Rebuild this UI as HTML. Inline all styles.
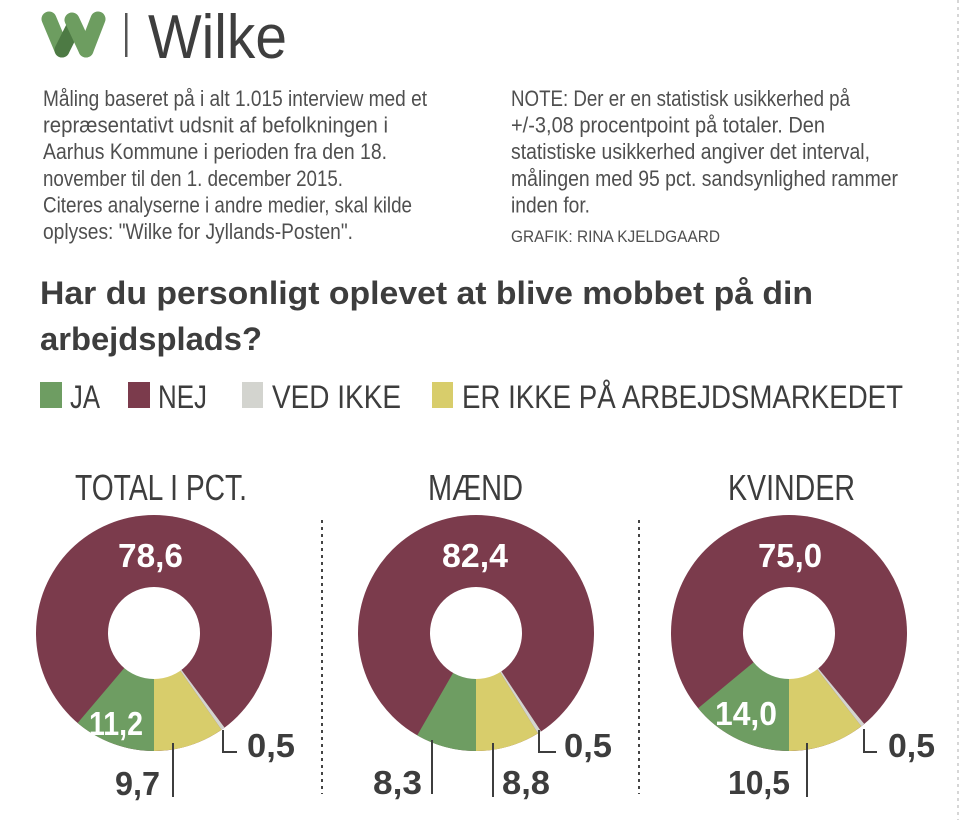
<!DOCTYPE html>
<html><head><meta charset="utf-8"><style>
html,body{margin:0;padding:0;background:#fff;}
svg{display:block;}
text{font-family:"Liberation Sans",sans-serif;}
</style></head><body>
<svg width="960" height="820" viewBox="0 0 960 820" xmlns="http://www.w3.org/2000/svg">
<rect width="960" height="820" fill="#ffffff"/>
<!-- right dotted edge -->
<line x1="958" y1="0" x2="958" y2="820" stroke="#c8c8c8" stroke-width="1.5" stroke-dasharray="3,4"/>

<!-- logo -->
<g stroke-linecap="round" stroke-linejoin="round" fill="none" stroke-width="15">
  <line x1="49" y1="19" x2="62" y2="50" stroke="#6d9d60"/>
  <line x1="62" y1="50" x2="74" y2="26" stroke="#4d7a44"/>
  <line x1="72" y1="20" x2="86" y2="50" stroke="#6d9d60"/>
  <line x1="86" y1="50" x2="98" y2="19" stroke="#6d9d60"/>
</g>
<rect x="125" y="13" width="2.5" height="44" fill="#555"/>
<text x="148" y="58" font-size="62" fill="#3e3e3e" textLength="139" lengthAdjust="spacingAndGlyphs">Wilke</text>

<!-- intro text -->
<g font-size="22" fill="#4f4f4f">
<text x="43" y="106" textLength="384" lengthAdjust="spacingAndGlyphs">Måling baseret på i alt 1.015 interview med et</text>
<text x="43" y="132.6" textLength="345" lengthAdjust="spacingAndGlyphs">repræsentativt udsnit af befolkningen i</text>
<text x="43" y="159.2" textLength="344" lengthAdjust="spacingAndGlyphs">Aarhus Kommune i perioden fra den 18.</text>
<text x="43" y="185.8" textLength="300" lengthAdjust="spacingAndGlyphs">november til den 1. december 2015.</text>
<text x="43" y="212.4" textLength="369" lengthAdjust="spacingAndGlyphs">Citeres analyserne i andre medier, skal kilde</text>
<text x="43" y="239" textLength="310" lengthAdjust="spacingAndGlyphs">oplyses: "Wilke for Jyllands-Posten".</text>

<text x="511" y="106" textLength="339" lengthAdjust="spacingAndGlyphs">NOTE: Der er en statistisk usikkerhed på</text>
<text x="511" y="132.6" textLength="314" lengthAdjust="spacingAndGlyphs">+/-3,08 procentpoint på totaler. Den</text>
<text x="511" y="159.2" textLength="359" lengthAdjust="spacingAndGlyphs">statistiske usikkerhed angiver det interval,</text>
<text x="511" y="185.8" textLength="387" lengthAdjust="spacingAndGlyphs">målingen med 95 pct. sandsynlighed rammer</text>
<text x="511" y="212.4" textLength="79" lengthAdjust="spacingAndGlyphs">inden for.</text>
<text x="511" y="242" font-size="17" textLength="209" lengthAdjust="spacingAndGlyphs">GRAFIK: RINA KJELDGAARD</text>
</g>

<!-- title -->
<g font-size="32" font-weight="bold" fill="#3d3d3d">
<text x="40" y="304" textLength="773" lengthAdjust="spacingAndGlyphs">Har du personligt oplevet at blive mobbet på din</text>
<text x="40" y="350" textLength="222" lengthAdjust="spacingAndGlyphs">arbejdsplads?</text>
</g>

<!-- legend -->
<rect x="40" y="382" width="22" height="26" fill="#6e9d62"/>
<rect x="128" y="382" width="22" height="26" fill="#7b3b4c"/>
<rect x="242" y="382" width="21" height="26" fill="#d3d4cf"/>
<rect x="432" y="382" width="21" height="26" fill="#d8cd6b"/>
<g font-size="32" fill="#3d3d3d">
<text x="70" y="408" textLength="30" lengthAdjust="spacingAndGlyphs">JA</text>
<text x="158" y="408" textLength="49" lengthAdjust="spacingAndGlyphs">NEJ</text>
<text x="272" y="408" textLength="129" lengthAdjust="spacingAndGlyphs">VED IKKE</text>
<text x="462" y="408" textLength="441" lengthAdjust="spacingAndGlyphs">ER IKKE PÅ ARBEJDSMARKEDET</text>
</g>

<!-- section titles -->
<g font-size="36" fill="#3d3d3d">
<text x="75" y="500" textLength="172" lengthAdjust="spacingAndGlyphs">TOTAL I PCT.</text>
<text x="428" y="500" textLength="95" lengthAdjust="spacingAndGlyphs">MÆND</text>
<text x="728" y="500" textLength="127" lengthAdjust="spacingAndGlyphs">KVINDER</text>
</g>

<!-- dotted separators -->
<line x1="322" y1="520" x2="322" y2="794" stroke="#444" stroke-width="2" stroke-dasharray="3,4"/>
<line x1="639" y1="520" x2="639" y2="794" stroke="#444" stroke-width="2" stroke-dasharray="3,4"/>

<!-- TOTAL donut -->
<circle cx="154" cy="633" r="118" fill="#7b3b4c"/>
<path d="M154,633 L154,751 A118,118 0 0 1 77.65,722.98 Z" fill="#6e9d62"/>
<path d="M154,633 L221.54,729.76 A118,118 0 0 1 154,751 Z" fill="#d8cd6b"/>
<path d="M154,633 L224.55,727.58 A118,118 0 0 1 221.54,729.76 Z" fill="#d3d4cf"/>
<circle cx="154" cy="633" r="46" fill="#fff"/>

<!-- MAEND donut -->
<circle cx="476" cy="633" r="118" fill="#7b3b4c"/>
<path d="M476,633 L476,751 A118,118 0 0 1 417.21,735.32 Z" fill="#6e9d62"/>
<path d="M476,633 L537.96,733.42 A118,118 0 0 1 476,751 Z" fill="#d8cd6b"/>
<path d="M476,633 L541.09,731.42 A118,118 0 0 1 537.96,733.42 Z" fill="#d3d4cf"/>
<circle cx="476" cy="633" r="46" fill="#fff"/>

<!-- KVINDER donut -->
<circle cx="789" cy="633" r="118" fill="#7b3b4c"/>
<path d="M789,633 L789,751 A118,118 0 0 1 698.08,708.21 Z" fill="#6e9d62"/>
<path d="M789,633 L861.32,726.24 A118,118 0 0 1 789,751 Z" fill="#d8cd6b"/>
<path d="M789,633 L864.21,723.92 A118,118 0 0 1 861.32,726.24 Z" fill="#d3d4cf"/>
<circle cx="789" cy="633" r="46" fill="#fff"/>

<!-- leader lines -->
<g stroke="#3d3d3d" stroke-width="2" fill="none">
<line x1="173" y1="743" x2="173" y2="797"/>
<polyline points="223,730 223,752 237,752"/>
<line x1="432" y1="740" x2="432" y2="794"/>
<line x1="493" y1="743" x2="493" y2="797"/>
<polyline points="539,730 539,752 556,752"/>
<line x1="807" y1="743" x2="807" y2="797"/>
<polyline points="864,729 864,752 877,752"/>
</g>

<!-- value labels -->
<g font-size="33" font-weight="bold">
<text x="118" y="567" fill="#fff" textLength="65" lengthAdjust="spacingAndGlyphs">78,6</text>
<text x="89" y="735" fill="#fff" textLength="54" lengthAdjust="spacingAndGlyphs">11,2</text>
<text x="115" y="795" fill="#3d3d3d" textLength="45" lengthAdjust="spacingAndGlyphs">9,7</text>
<text x="247" y="757" fill="#3d3d3d" textLength="48" lengthAdjust="spacingAndGlyphs">0,5</text>

<text x="442" y="567" fill="#fff" textLength="66" lengthAdjust="spacingAndGlyphs">82,4</text>
<text x="373" y="794" fill="#3d3d3d" textLength="49" lengthAdjust="spacingAndGlyphs">8,3</text>
<text x="502" y="794" fill="#3d3d3d" textLength="48" lengthAdjust="spacingAndGlyphs">8,8</text>
<text x="564" y="757" fill="#3d3d3d" textLength="48" lengthAdjust="spacingAndGlyphs">0,5</text>

<text x="758" y="567" fill="#fff" textLength="64" lengthAdjust="spacingAndGlyphs">75,0</text>
<text x="715" y="725" fill="#fff" textLength="62" lengthAdjust="spacingAndGlyphs">14,0</text>
<text x="728" y="794" fill="#3d3d3d" textLength="62" lengthAdjust="spacingAndGlyphs">10,5</text>
<text x="888" y="757" fill="#3d3d3d" textLength="47" lengthAdjust="spacingAndGlyphs">0,5</text>
</g>
</svg>
</body></html>
